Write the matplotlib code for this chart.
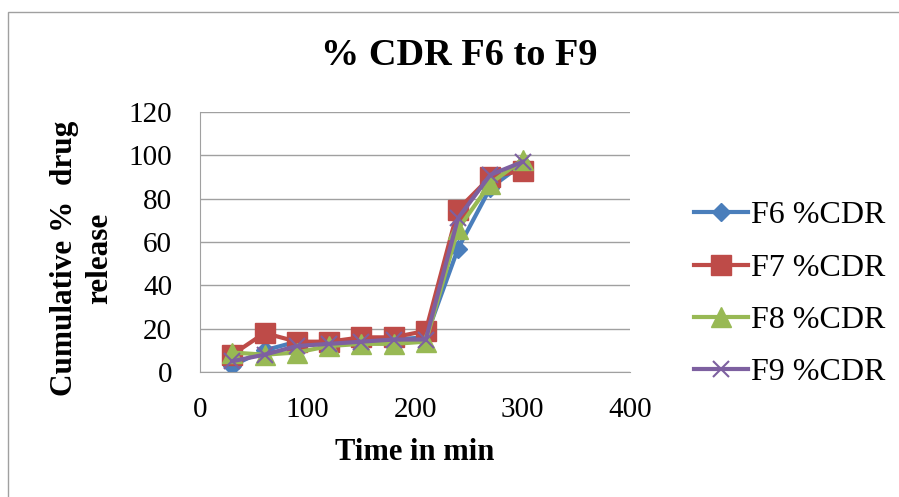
import matplotlib.pyplot as plt
from matplotlib.patches import Rectangle

plt.rcParams['font.family'] = ['Liberation Serif', 'DejaVu Serif']

time = [30, 60, 90, 120, 150, 180, 210, 240, 270, 300]
f6 = [3, 10, 14, 13, 15, 15, 16, 57, 85, 96]
f7 = [8, 18, 14, 14, 16, 16, 19, 75, 90, 93]
f8 = [9, 8, 9, 12, 13, 13, 14, 66, 87, 98]
f9 = [5, 8, 12, 13, 14, 15, 15, 71, 91, 97]
labels = ['F6 %CDR', 'F7 %CDR', 'F8 %CDR', 'F9 %CDR']

fig = plt.figure(figsize=(8.99, 4.97), dpi=100)
fig.patches.append(Rectangle((0.009, -0.1), 1.2, 1.075, transform=fig.transFigure,
                             fill=False, edgecolor='#a0a0a0', linewidth=1))
ax = fig.add_axes([0.2225, 0.2515, 0.4783, 0.523])

ax.plot(time, f6, color='#4A7EBB', lw=3, marker='D', ms=9, label=labels[0])
ax.plot(time, f7, color='#BE4B48', lw=3, marker='s', ms=14, label=labels[1])
ax.plot(time, f8, color='#98B954', lw=3, marker='^', ms=14, label=labels[2])
ax.plot(time, f9, color='#7D60A0', lw=3, marker='x', ms=12, mew=1.5, label=labels[3])

ax.set_xlim(0, 400)
ax.set_ylim(0, 120)
ax.set_xticks(range(0, 401, 100))
ax.set_yticks(range(0, 121, 20))
ax.yaxis.grid(True, color='#a0a0a0', lw=1)
ax.set_axisbelow(True)
for s in ['top', 'right']:
    ax.spines[s].set_visible(False)
for s in ['left', 'bottom']:
    ax.spines[s].set_color('#a0a0a0')
ax.tick_params(labelsize=21, length=0)
ax.tick_params(axis='y', pad=20)
ax.tick_params(axis='x', pad=18)

ax.set_xlabel('Time in min', fontsize=22, fontweight='bold', labelpad=11)
fig.text(0.091, 0.481, 'Cumulative %  drug\nrelease', rotation=90, ha='center',
         va='center', fontsize=22.5, fontweight='bold', linespacing=1.3)
fig.text(0.511, 0.889, '% CDR F6 to F9', ha='center', va='center',
         fontsize=27.5, fontweight='bold')

ax.legend(loc='center left', bbox_to_anchor=(0.754, 0.408),
          bbox_transform=fig.transFigure, frameon=False, borderpad=0,
          fontsize=23, labelspacing=0.72, handlelength=1.7, handletextpad=0.1)

fig.savefig('out.png', dpi=100)
